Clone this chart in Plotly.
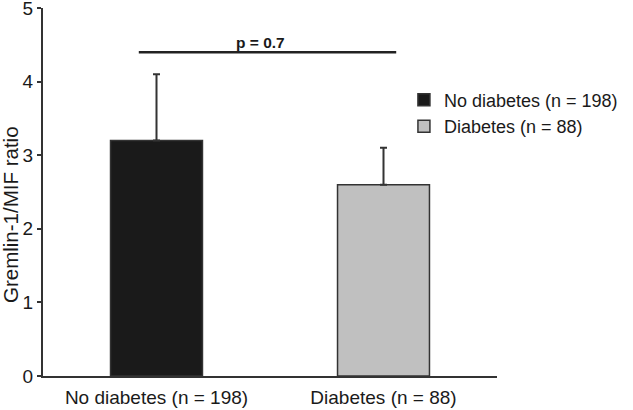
import plotly.graph_objects as go

categories = ["No diabetes (n = 198)", "Diabetes (n = 88)"]
means = [3.2, 2.6]
errors_up = [0.9, 0.5]
colors = ["#1a1a1a", "#c0c0c0"]
p_text = "p = 0.7"
p_level = 4.4
y_ticks = [0, 1, 2, 3, 4, 5]
y_title = "Gremlin-1/MIF ratio"

FONT = "Liberation Sans, Arial, sans-serif"
TXT = "#1a1a1a"

fig = go.Figure()
for cat, m, e, c in zip(categories, means, errors_up, colors):
    fig.add_trace(go.Bar(
        x=[cat], y=[m], name=cat, width=0.405,
        marker=dict(color=c, line=dict(color="#333333", width=1.5)),
        error_y=dict(type="data", symmetric=False, array=[e], arrayminus=[0],
                     color="#333333", thickness=2, width=3.5),
    ))

fig.add_shape(type="line", xref="paper", yref="y", x0=0.211, x1=0.778,
              y0=p_level, y1=p_level, line=dict(color="#222222", width=2.5))
fig.add_annotation(xref="paper", yref="y", x=0.478, y=p_level, yshift=-1,
                   text="<b>" + p_text + "</b>", showarrow=False, yanchor="bottom",
                   font=dict(size=15.5, color=TXT, family=FONT))
fig.add_annotation(xref="paper", yref="paper", x=0, xshift=-33, y=0.4375,
                   text=y_title, textangle=-90, showarrow=False,
                   xanchor="center", yanchor="middle",
                   font=dict(size=20.5, color=TXT, family=FONT))

fig.update_layout(
    width=633, height=410,
    margin=dict(l=43, r=136, t=8, b=34),
    paper_bgcolor="white", plot_bgcolor="white",
    barmode="overlay",
    font=dict(family=FONT, size=19, color=TXT),
    showlegend=True,
    legend=dict(x=0.795, y=0.80, xanchor="left", yanchor="top",
                font=dict(size=18, color=TXT), itemwidth=30,
                bgcolor="rgba(0,0,0,0)"),
    xaxis=dict(showline=True, linecolor="#333333", linewidth=2,
               ticks="", showgrid=False, range=[-0.5, 1.5], automargin=False,
               ticklabelstandoff=3, tickfont=dict(size=19)),
    yaxis=dict(showline=True, linecolor="#333333", linewidth=2,
               ticks="outside", ticklen=4, tickwidth=2, tickcolor="#333333",
               range=[0, 5], tickvals=y_ticks, showgrid=False, zeroline=False,
               automargin=False, ticklabeloverflow="allow",
               tickfont=dict(size=19)),
)

fig.write_html("out.html", config={"displayModeBar": False},
               post_script="document.body.style.margin='0';")
